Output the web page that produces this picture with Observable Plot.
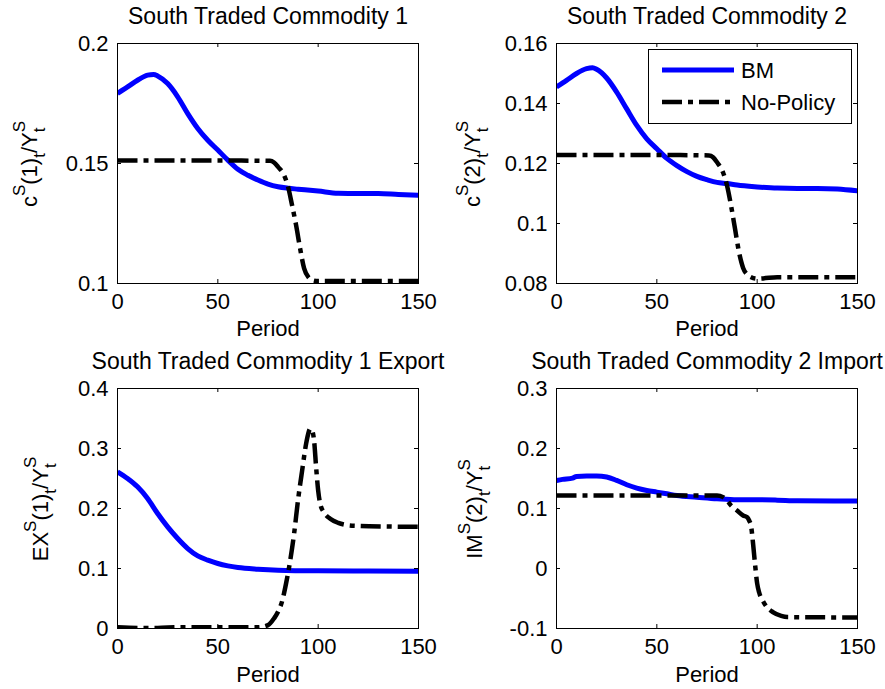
<!DOCTYPE html>
<html><head><meta charset="utf-8">
<script src="https://cdn.jsdelivr.net/npm/d3@7"></script>
<script src="https://cdn.jsdelivr.net/npm/@observablehq/plot@0.6"></script>
<style>
body{margin:0;background:#fff;}
#wrap{position:relative;width:885px;height:689px;background:#fff;font-family:"Liberation Sans",Arial,sans-serif;}
#wrap svg{position:absolute;}
</style></head><body><div id="wrap"></div>
<script>
// ---------- data ----------
const xTicks = [0, 50, 100, 150];
const seriesNames = ["BM", "No-Policy"];

const titles = ["South Traded Commodity 1", "South Traded Commodity 2",
  "South Traded Commodity 1 Export", "South Traded Commodity 2 Import"];

// panel 1
const y1Ticks = [0.1, 0.15, 0.2];
const y1Labels = ["0.1", "0.15", "0.2"];
const bm1P = [0,5,10,15,18,20,25,30,35,40,45,50,55,60,65,70,75,80,85,90,100,110,120,130,140,150];
const bm1V = [0.1792,0.1819,0.1847,0.1868,0.1871,0.1865,0.1833,0.1778,0.1708,0.1646,0.1597,0.1556,0.1514,0.1476,0.1451,0.1431,0.1414,0.1403,0.1397,0.1393,0.1385,0.1376,0.1375,0.1375,0.1371,0.1368];
const np1P = [0,20,40,60,76,78,80,83,85,87,89,91,93,95,97,100,120,150];
const np1V = [0.1512,0.1512,0.1512,0.1512,0.1511,0.1504,0.1486,0.1451,0.1403,0.1326,0.1243,0.1146,0.1063,0.1028,0.1014,0.1010,0.1010,0.1010];

// panel 2
const y2Ticks = [0.08, 0.1, 0.12, 0.14, 0.16];
const y2Labels = ["0.08", "0.1", "0.12", "0.14", "0.16"];
const bm2P = [0,5,10,15,18,20,25,30,35,40,45,50,55,60,65,70,75,80,85,90,100,110,120,130,140,150];
const bm2V = [0.1455,0.1477,0.1500,0.1516,0.1519,0.1514,0.1485,0.1438,0.1382,0.1327,0.1282,0.1249,0.1217,0.1193,0.1173,0.1157,0.1146,0.1137,0.1133,0.1128,0.1122,0.1118,0.1117,0.1117,0.1115,0.1109];
const np2P = [0,20,40,60,76,78,80,83,85,87,89,91,93,95,97,100,103,110,130,150];
const np2V = [0.1228,0.1228,0.1228,0.1228,0.1227,0.1221,0.1204,0.1170,0.1126,0.1059,0.0981,0.0903,0.0852,0.0830,0.0821,0.0816,0.0817,0.0821,0.0821,0.0821];

// panel 3
const y3Ticks = [0, 0.1, 0.2, 0.3, 0.4];
const y3Labels = ["0", "0.1", "0.2", "0.3", "0.4"];
const bm3P = [0,5,10,15,20,25,30,35,40,45,50,55,60,70,80,100,125,150];
const bm3V = [0.2611,0.2500,0.2361,0.2167,0.1917,0.1694,0.1500,0.1333,0.1211,0.1139,0.1083,0.1044,0.1017,0.0989,0.0972,0.0961,0.0958,0.0956];
const np3P = [0,10,20,30,50,70,75,78,80,82,84,86,88,90,92,94,95,96,97,98,99,100,101,103,106,110,115,120,135,150];
const np3V = [0.002,0.001,0.001,0.002,0.002,0.002,0.0056,0.0167,0.0278,0.045,0.075,0.112,0.158,0.215,0.263,0.308,0.324,0.333,0.330,0.312,0.268,0.230,0.208,0.193,0.183,0.176,0.172,0.171,0.170,0.1694];

// panel 4
const y4Ticks = [-0.1, 0, 0.1, 0.2, 0.3];
const y4Labels = ["-0.1", "0", "0.1", "0.2", "0.3"];
const bm4P = [0,3,8,10,15,20,25,30,35,40,45,50,55,60,70,80,90,100,110,120,150];
const bm4V = [0.1468,0.1485,0.1507,0.1535,0.154,0.154,0.1524,0.1468,0.1396,0.134,0.1301,0.1273,0.1245,0.1217,0.1189,0.1162,0.1145,0.1145,0.1139,0.1128,0.1123];
const np4P = [0,40,80,83,85,87,90,93,95,96,97,98,99,100,101,103,105,108,112,115,150];
const np4V = [0.1217,0.1217,0.1217,0.1189,0.1134,0.105,0.0967,0.0883,0.0855,0.080,0.070,0.040,0.005,-0.025,-0.040,-0.055,-0.065,-0.073,-0.079,-0.081,-0.0816];

// y-axis labels: [text, kind]
const yLab1 = [["c","n"],["S","sup"],["(1)","n"],["t","sub"],["/Y","n"],["S","sup"],["t","stack"]];
const yLab2 = [["c","n"],["S","sup"],["(2)","n"],["t","sub"],["/Y","n"],["S","sup"],["t","stack"]];
const yLab3 = [["EX","n"],["S","sup"],["(1)","n"],["t","sub"],["/Y","n"],["S","sup"],["t","stack"]];
const yLab4 = [["IM","n"],["S","sup"],["(2)","n"],["t","sub"],["/Y","n"],["S","sup"],["t","stack"]];

// ---------- drawing ----------
const BLUE = "#0000ff";
const DASH = "20,6,5,6";
const wrap = document.getElementById("wrap");
const zip = (P, V) => P.map((p, i) => ({period: p, value: V[i]}));

function panel(o) {
  const {left, top, width, height, mL, mR, mT, mB, yDomain, yTicks, yLabels, title, bm, np, labelParts, labelX, periodDy} = o;
  const W = width - mL - mR, H = height - mT - mB, tl = 4;
  const fmt = new Map(yTicks.map((t, i) => [t, yLabels[i]]));
  const svg = Plot.plot({
    width, height, marginLeft: mL, marginRight: mR, marginTop: mT, marginBottom: mB,
    style: {fontFamily: "Liberation Sans, Arial, sans-serif", fontSize: "22px", color: "black", background: "transparent", overflow: "visible"},
    x: {domain: [0, 150]},
    y: {domain: yDomain},
    marks: [
      Plot.axisX({ticks: xTicks, tickSize: 0, tickPadding: 10, label: null}),
      Plot.axisY({ticks: yTicks, tickSize: 0, tickPadding: 9, tickFormat: d => fmt.get(d), label: null}),
      Plot.line(bm, {x: "period", y: "value", stroke: BLUE, strokeWidth: 5, curve: "monotone-x", strokeLinecap: "butt", clip: true}),
      Plot.line(np, {x: "period", y: "value", stroke: "black", strokeWidth: 4.5, strokeDasharray: DASH, strokeLinecap: "butt", strokeLinejoin: "round", curve: "monotone-x", clip: true}),
      Plot.tickX(xTicks, {insetTop: H - tl, stroke: "black"}),
      Plot.tickX(xTicks, {insetBottom: H - tl, stroke: "black"}),
      Plot.tickY(yTicks, {insetRight: W - tl, stroke: "black"}),
      Plot.tickY(yTicks, {insetLeft: W - tl, stroke: "black"}),
      Plot.frame({stroke: "black", strokeWidth: 1}),
      Plot.text([title], {frameAnchor: "top", lineAnchor: "bottom", dy: -20, fontSize: 23, fill: "black"}),
      Plot.text(["Period"], {frameAnchor: "bottom", lineAnchor: "top", dy: periodDy, fontSize: 22, fill: "black"})
    ]
  });
  svg.style.left = left + "px";
  svg.style.top = top + "px";
  wrap.appendChild(svg);

  // rotated y label with super/subscripts
  const t = d3.select(svg).append("text")
    .attr("transform", `translate(${labelX},${mT + H / 2 + 1}) rotate(-90)`)
    .attr("text-anchor", "middle")
    .attr("font-size", 22)
    .attr("font-family", "Liberation Sans, Arial, sans-serif")
    .attr("fill", "black");
  let cur = 0, prev = null;
  for (const [s, k] of labelParts) {
    const sp = t.append("tspan").text(s);
    let target = 0;
    if (k === "sup") { target = -12; sp.attr("font-size", 17); }
    else if (k === "sub" || k === "stack") { target = 8; sp.attr("font-size", 17); }
    sp.attr("dy", target - cur);
    cur = target;
    if (k === "stack" && prev) sp.attr("dx", -prev.node().getComputedTextLength());
    prev = sp;
  }
  return svg;
}

panel({left: 0, top: 0, width: 442, height: 345, mL: 117, mR: 24, mT: 43, mB: 62,
  yDomain: [0.1, 0.2], yTicks: y1Ticks, yLabels: y1Labels, title: titles[0],
  bm: zip(bm1P, bm1V), np: zip(np1P, np1V), labelParts: yLab1, labelX: 37, periodDy: 37});

const p2 = panel({left: 442, top: 0, width: 443, height: 345, mL: 114, mR: 28, mT: 43, mB: 62,
  yDomain: [0.08, 0.16], yTicks: y2Ticks, yLabels: y2Labels, title: titles[1],
  bm: zip(bm2P, bm2V), np: zip(np2P, np2V), labelParts: yLab2, labelX: 38, periodDy: 37});

panel({left: 0, top: 345, width: 442, height: 344, mL: 117, mR: 24, mT: 43, mB: 61,
  yDomain: [0, 0.4], yTicks: y3Ticks, yLabels: y3Labels, title: titles[2],
  bm: zip(bm3P, bm3V), np: zip(np3P, np3V), labelParts: yLab3, labelX: 48, periodDy: 38});

panel({left: 442, top: 345, width: 443, height: 344, mL: 114, mR: 28, mT: 43, mB: 61,
  yDomain: [-0.1, 0.3], yTicks: y4Ticks, yLabels: y4Labels, title: titles[3],
  bm: zip(bm4P, bm4V), np: zip(np4P, np4V), labelParts: yLab4, labelX: 40, periodDy: 38});

// legend inside panel 2
const lg = d3.select(p2).append("g")
  .attr("font-family", "Liberation Sans, Arial, sans-serif")
  .attr("font-size", 22)
  .attr("text-anchor", "start");
lg.append("rect").attr("x", 206.5).attr("y", 49.5).attr("width", 203).attr("height", 74)
  .attr("fill", "white").attr("stroke", "black").attr("stroke-width", 1);
lg.append("line").attr("x1", 220).attr("x2", 292).attr("y1", 70).attr("y2", 70)
  .attr("stroke", BLUE).attr("stroke-width", 5);
lg.append("line").attr("x1", 220).attr("x2", 292).attr("y1", 102).attr("y2", 102)
  .attr("stroke", "black").attr("stroke-width", 4.5).attr("stroke-dasharray", DASH);
lg.append("text").attr("x", 299).attr("y", 78).attr("fill", "black").attr("text-anchor", "start").text(seriesNames[0]);
lg.append("text").attr("x", 299).attr("y", 110).attr("fill", "black").attr("text-anchor", "start").text(seriesNames[1]);
</script></body></html>
